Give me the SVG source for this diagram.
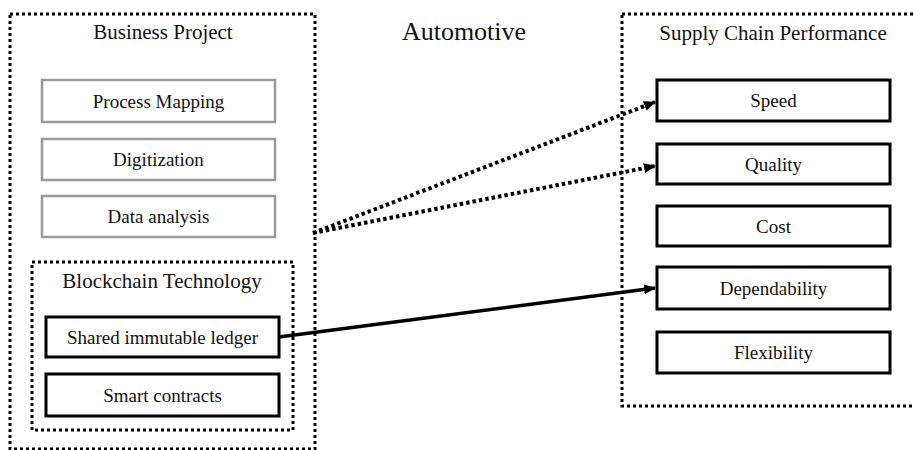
<svg xmlns="http://www.w3.org/2000/svg" width="914" height="450" viewBox="0 0 914 450">
  <style>
    .frame { fill: none; stroke: #000; stroke-width: 3; stroke-dasharray: 3 3; }
    .grey { fill: #fff; stroke: #9a9a9a; stroke-width: 2.5; }
    .box { fill: #fff; stroke: #000; stroke-width: 3; }
    text { font-family: "Liberation Serif", "Times New Roman", serif; fill: #111; text-anchor: middle; }
    .title { font-size: 21px; }
    .label { font-size: 19px; }
    .big { font-size: 26px; }
    .dotted { fill: none; stroke: #000; stroke-width: 4; stroke-dasharray: 3.5 3; }
    .solid { fill: none; stroke: #000; stroke-width: 3.5; }
  </style>
  <defs>
    <marker id="head" viewBox="0 0 12 10" refX="11" refY="5" markerWidth="12" markerHeight="10" markerUnits="userSpaceOnUse" orient="auto">
      <path d="M0,0 L12,5 L0,10 Z" fill="#000"/>
    </marker>
  </defs>
  <rect width="914" height="450" fill="#fff"/>

  <!-- Business project frame -->
  <g id="business-project">
    <rect class="frame" x="10" y="14" width="305" height="435"/>
    <text class="title" x="163" y="39">Business Project</text>
  </g>
  <g id="process-mapping">
    <rect class="grey" x="42" y="80" width="233" height="42"/>
    <text class="label" x="158.5" y="107.5">Process Mapping</text>
  </g>
  <g id="digitization">
    <rect class="grey" x="42" y="139" width="233" height="41"/>
    <text class="label" x="158.5" y="166">Digitization</text>
  </g>
  <g id="data-analysis">
    <rect class="grey" x="42" y="196" width="233" height="41"/>
    <text class="label" x="158.5" y="223">Data analysis</text>
  </g>

  <!-- Blockchain technology frame -->
  <g id="blockchain-technology">
    <rect class="frame" x="32" y="262" width="261" height="168"/>
    <text class="title" x="162" y="288">Blockchain Technology</text>
  </g>
  <g id="shared-ledger">
    <rect class="box" x="46" y="317" width="233" height="40"/>
    <text class="label" x="162.5" y="343.5">Shared immutable ledger</text>
  </g>
  <g id="smart-contracts">
    <rect class="box" x="46" y="374" width="233" height="42"/>
    <text class="label" x="162.5" y="401.5">Smart contracts</text>
  </g>

  <g id="automotive">
    <text class="big" x="464" y="40">Automotive</text>
  </g>

  <!-- Supply chain performance frame -->
  <g id="supply-chain-performance">
    <rect class="frame" x="622" y="14" width="300" height="392"/>
    <text class="title" x="773" y="40">Supply Chain Performance</text>
  </g>
  <g id="speed">
    <rect class="box" x="657" y="80" width="233" height="41"/>
    <text class="label" x="773.5" y="107">Speed</text>
  </g>
  <g id="quality">
    <rect class="box" x="657" y="144" width="233" height="40"/>
    <text class="label" x="773.5" y="170.5">Quality</text>
  </g>
  <g id="cost">
    <rect class="box" x="657" y="206" width="233" height="40"/>
    <text class="label" x="773.5" y="232.5">Cost</text>
  </g>
  <g id="dependability">
    <rect class="box" x="657" y="267" width="233" height="42"/>
    <text class="label" x="773.5" y="294.5">Dependability</text>
  </g>
  <g id="flexibility">
    <rect class="box" x="657" y="332" width="233" height="41"/>
    <text class="label" x="773.5" y="359">Flexibility</text>
  </g>

  <!-- Connectors -->
  <g id="connectors">
    <line class="dotted" x1="313" y1="233" x2="655" y2="102" marker-end="url(#head)"/>
    <line class="dotted" x1="313" y1="233" x2="655" y2="166" marker-end="url(#head)"/>
    <line class="solid" x1="279" y1="337" x2="655" y2="288" marker-end="url(#head)"/>
  </g>
</svg>
